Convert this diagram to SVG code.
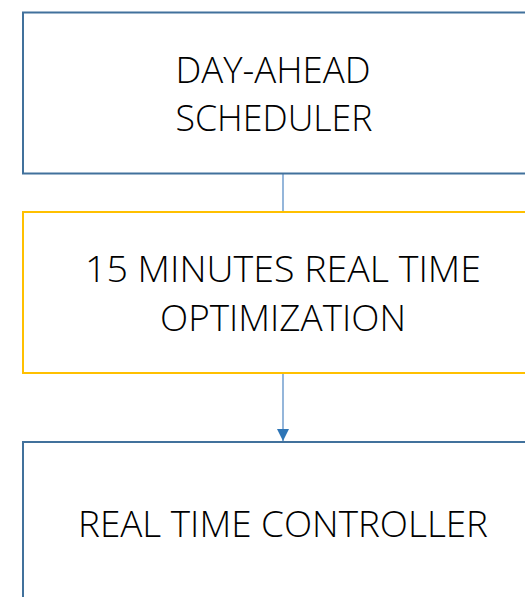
<svg xmlns="http://www.w3.org/2000/svg" width="525" height="597" viewBox="0 0 525 597">
  <style>
    .box { fill: #ffffff; stroke-width: 2; }
    .blue { stroke: #41719c; }
    .gold { stroke: #ffc000; }
    .label { font-family: "Open Sans", Lato, "Liberation Sans", sans-serif; font-weight: 300; font-size: 37px; fill: #000000; text-anchor: middle; }
    .conn { stroke: #5b8fc7; stroke-width: 1.3; fill: none; }
  </style>
  <defs>
    <marker id="arrow" markerWidth="14" markerHeight="14" refX="12" refY="6" orient="auto" markerUnits="userSpaceOnUse">
      <path d="M0,0 L12,6 L0,12 Z" fill="#2e75b6"/>
    </marker>
  </defs>
  <rect width="525" height="597" fill="#ffffff"/>

  <g id="connectors">
    <line class="conn" x1="283" y1="174" x2="283" y2="211"/>
    <line class="conn" x1="283" y1="374" x2="283" y2="441" marker-end="url(#arrow)"/>
  </g>

  <g id="day-ahead">
    <rect class="box blue" x="23" y="12.5" width="520" height="161"/>
    <text class="label" x="273" y="82.5" textLength="195" lengthAdjust="spacingAndGlyphs">DAY-AHEAD</text>
    <text class="label" x="274" y="131" textLength="197" lengthAdjust="spacingAndGlyphs">SCHEDULER</text>
  </g>

  <g id="rto-15min">
    <rect class="box gold" x="23" y="212" width="520" height="161"/>
    <text class="label" x="283" y="281.5" textLength="396" lengthAdjust="spacingAndGlyphs">15 MINUTES REAL TIME</text>
    <text class="label" x="283" y="331" textLength="246" lengthAdjust="spacingAndGlyphs">OPTIMIZATION</text>
  </g>

  <g id="rt-controller">
    <rect class="box blue" x="23" y="442" width="520" height="170"/>
    <text class="label" x="283" y="537" textLength="410" lengthAdjust="spacingAndGlyphs">REAL TIME CONTROLLER</text>
  </g>
</svg>
